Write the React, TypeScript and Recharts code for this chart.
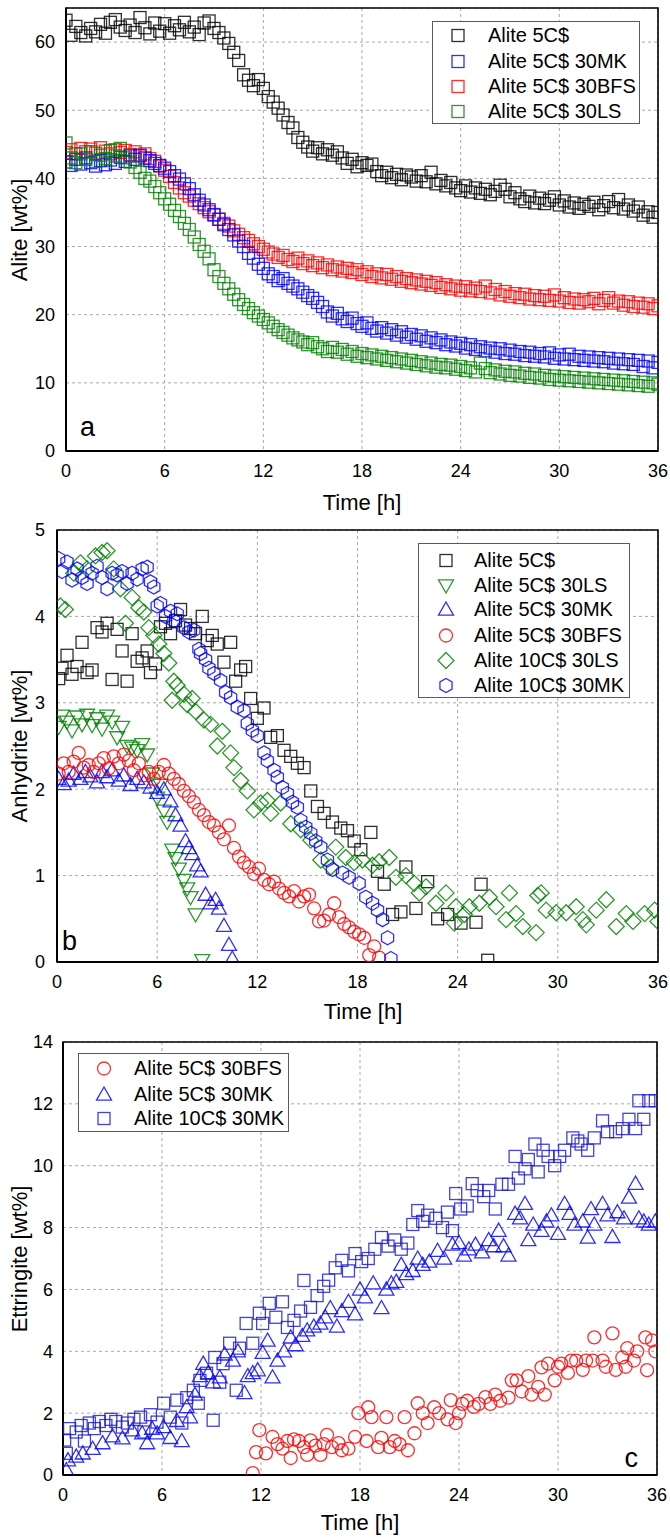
import React from 'react';
import { ScatterChart, Scatter, XAxis, YAxis, CartesianGrid, ReferenceArea, Legend } from 'recharts';

const FONT = '"Liberation Sans", Arial, Helvetica, sans-serif';
const RED = '#ff0000';
const BLUE = '#0000ff';
const GREEN = '#008000';
const BLACK = '#000000';

const TIME_TICKS = [0, 6, 12, 18, 24, 30, 36];
const A_TICKS = [0, 10, 20, 30, 40, 50, 60];
const B_TICKS = [0, 1, 2, 3, 4, 5];
const C_TICKS = [0, 2, 4, 6, 8, 10, 12, 14];

// ---------- Panel a : Alite [wt%] ----------
const A_TIME = [
  0, 0.3, 0.6, 0.9, 1.2, 1.5, 1.8, 2.1, 2.4, 2.7,
  3, 3.3, 3.6, 3.9, 4.2, 4.5, 4.8, 5.1, 5.4, 5.7,
  6, 6.3, 6.6, 6.9, 7.2, 7.5, 7.8, 8.1, 8.4, 8.7,
  9, 9.3, 9.6, 9.9, 10.2, 10.5, 10.8, 11.1, 11.4, 11.7,
  12, 12.3, 12.6, 12.9, 13.2, 13.5, 13.8, 14.1, 14.4, 14.7,
  15, 15.3, 15.6, 15.9, 16.2, 16.5, 16.8, 17.1, 17.4, 17.7,
  18, 18.3, 18.6, 18.9, 19.2, 19.5, 19.8, 20.1, 20.4, 20.7,
  21, 21.3, 21.6, 21.9, 22.2, 22.5, 22.8, 23.1, 23.4, 23.7,
  24, 24.3, 24.6, 24.9, 25.2, 25.5, 25.8, 26.1, 26.4, 26.7,
  27, 27.3, 27.6, 27.9, 28.2, 28.5, 28.8, 29.1, 29.4, 29.7,
  30, 30.3, 30.6, 30.9, 31.2, 31.5, 31.8, 32.1, 32.4, 32.7,
  33, 33.3, 33.6, 33.9, 34.2, 34.5, 34.8, 35.1, 35.4, 35.7,
  36,
];
const A_ALITE_5CS = [
  63.2, 61.0, 62.3, 61.4, 60.9, 62.0, 61.5, 62.6, 61.3, 62.9,
  63.3, 62.2, 61.7, 62.5, 61.4, 63.6, 62.1, 61.2, 62.8, 61.6,
  62.7, 61.3, 62.4, 61.8, 62.9, 61.5, 62.2, 61.1, 62.8, 63.1,
  62.0, 61.4, 60.6, 59.8, 58.5, 57.3, 55.2, 54.4, 53.6, 54.5,
  53.2, 52.0, 51.2, 50.3, 49.3, 48.2, 47.4, 46.0, 45.3, 44.6,
  44.0, 44.5, 43.6, 44.2, 43.4, 43.9, 43.0, 42.2, 42.8, 41.7,
  42.3, 41.9, 42.1, 41.0, 40.4, 40.9, 40.1, 40.6, 39.8, 40.5,
  40.2, 39.6, 40.4, 39.5, 40.9, 39.2, 39.7, 38.9, 39.4, 38.6,
  38.2, 38.9, 38.0, 38.6, 37.8, 38.4, 37.6, 38.1, 39.0, 38.4,
  37.3, 37.9, 37.0, 36.6, 37.4, 36.4, 37.1, 36.3, 36.8, 37.3,
  36.1, 36.7, 35.8, 36.4, 35.6, 36.2, 35.9, 36.5, 35.4, 36.0,
  36.6, 35.7, 36.9, 35.5, 36.1, 35.2, 35.8, 34.6, 35.1, 34.3,
  35.0,
];
const A_ALITE_5CS_30MK = [
  42.4, 41.9, 42.8, 42.1, 43.0, 42.3, 41.8, 42.6, 42.0, 42.7,
  42.2, 43.1, 42.5, 43.3, 42.8, 43.4, 43.0, 42.6, 42.2, 41.9,
  41.5, 41.0, 40.4, 39.9, 39.2, 38.5, 37.6, 36.8, 36.1, 35.4,
  34.7, 34.0, 33.2, 32.5, 31.7, 30.8, 30.0, 29.0, 28.3, 27.4,
  26.8, 26.0, 25.6, 25.0, 25.3, 24.6, 24.2, 23.8, 23.3, 22.8,
  22.4, 21.8, 21.2, 20.4, 19.8, 20.2, 19.4, 19.0, 19.5, 18.7,
  18.3, 18.8, 18.0, 17.6, 18.1, 17.3, 17.8, 17.0, 17.5, 16.7,
  17.1, 16.4, 16.9, 16.1, 16.6, 15.9, 16.3, 15.6, 16.0, 15.4,
  15.8, 15.1, 15.6, 14.9, 15.3, 14.7, 15.1, 14.5, 15.0, 14.3,
  14.8, 14.2, 14.6, 14.0, 14.5, 13.9, 14.3, 13.8, 14.4, 13.6,
  14.1, 13.5, 14.2, 13.4, 13.9, 13.3, 13.8, 13.2, 13.7, 13.1,
  13.6, 12.9, 13.5, 12.8, 13.4, 12.7, 13.3, 12.4, 13.2, 12.2,
  13.0,
];
const A_ALITE_5CS_30BFS = [
  43.8, 44.2, 43.6, 44.4, 43.9, 44.3, 43.7, 44.5, 44.0, 43.6,
  44.2, 43.8, 44.1, 43.5, 43.9, 43.3, 43.6, 42.9, 42.5, 41.8,
  41.2, 40.3, 39.4, 38.6, 37.9, 37.4, 36.8, 36.3, 35.7, 35.1,
  34.6, 34.0, 33.4, 33.0, 32.3, 31.8, 31.3, 30.9, 30.4, 30.0,
  29.6, 29.2, 28.9, 28.4, 28.7, 28.1, 27.8, 28.3, 27.5, 27.9,
  27.2, 27.6, 26.9, 27.3, 26.6, 27.0, 26.4, 26.8, 26.2, 26.6,
  25.9, 26.3, 25.6, 26.0, 25.4, 25.9, 25.2, 25.6, 24.9, 25.3,
  24.7, 25.1, 24.5, 24.9, 24.3, 24.7, 24.0, 24.4, 23.8, 24.2,
  23.6, 24.1, 23.5, 23.9, 23.4, 24.2, 23.2, 23.7, 22.9, 23.4,
  22.7, 23.1, 22.5, 23.0, 22.3, 22.8, 22.2, 22.7, 22.1, 22.9,
  22.0, 22.5, 21.8, 22.3, 21.7, 22.2, 21.9, 22.4, 21.6, 22.1,
  22.5, 21.7, 22.0, 21.4, 21.9, 21.2, 21.7, 21.1, 21.6, 20.9,
  21.3,
];
const A_ALITE_5CS_30LS = [
  45.2, 43.0, 42.3, 43.6, 42.8, 43.9, 42.5, 43.4, 42.9, 44.1,
  43.3, 44.4, 43.0, 42.4, 41.6, 40.9, 40.0, 39.6, 38.8, 37.9,
  37.0, 36.2, 35.3, 34.4, 33.4, 32.5, 31.4, 30.3, 29.3, 28.2,
  26.6, 25.6, 24.6, 23.8, 23.0, 22.2, 21.5, 20.9, 20.3, 19.8,
  19.3, 18.8, 18.3, 17.8, 17.4, 17.0, 16.6, 16.3, 16.0, 15.6,
  15.9, 15.3, 15.0, 14.6, 15.2, 14.5, 14.9, 14.2, 14.6, 13.9,
  14.3, 13.7, 14.1, 13.5, 13.9, 13.3, 13.7, 13.1, 13.5, 12.9,
  13.3, 12.7, 13.1, 12.5, 12.9, 12.3, 12.7, 12.2, 12.6, 12.0,
  12.4, 11.8, 12.2, 11.6, 12.9, 12.1, 11.5, 11.9, 11.3, 11.7,
  11.1, 11.6, 11.0, 11.4, 10.8, 11.3, 10.7, 11.1, 10.5, 11.0,
  10.4, 10.9, 10.3, 10.8, 10.2, 10.7, 10.1, 10.6, 10.0, 10.5,
  9.9, 10.4, 9.8, 10.3, 9.7, 10.2, 9.6, 10.1, 9.5, 10.0,
  9.8,
];

// ---------- Panel b : Anhydrite [wt%]  ([time h, value]) ----------
const B_ALITE_5CS = [
  [0.1, 3.28], [0.3, 3.4], [0.6, 3.55], [0.9, 3.33], [1.2, 3.42], [1.5, 3.7], [1.8, 3.35], [2.1, 3.38], [2.4, 3.87], [2.7, 3.82],
  [3.0, 3.92], [3.3, 3.27], [3.6, 3.85], [3.9, 3.6], [4.2, 3.25], [4.5, 3.8], [4.8, 3.48], [5.1, 3.52], [5.4, 3.6], [5.6, 3.35],
  [5.9, 3.45], [6.2, 3.88], [6.5, 3.92], [6.8, 3.8], [7.1, 3.95], [7.4, 4.08], [7.7, 3.9], [8.0, 3.86], [8.3, 3.8], [8.7, 4.0],
  [9.0, 3.72], [9.3, 3.78], [9.6, 3.68], [10.0, 3.47], [10.4, 3.7], [10.7, 3.25], [11.0, 3.38], [11.3, 3.42], [11.6, 3.05], [12.0, 2.82],
  [12.4, 2.94], [12.8, 2.6], [13.2, 2.62], [13.6, 2.45], [14.0, 2.38], [14.4, 2.3], [14.8, 2.25], [15.2, 1.98], [15.6, 1.8], [16.0, 1.72],
  [16.5, 1.62], [17.0, 1.55], [17.4, 1.52], [17.8, 1.4], [18.2, 1.3], [18.8, 1.5], [19.2, 1.05], [19.6, 0.9], [20.1, 0.55], [20.6, 0.58],
  [20.9, 1.1], [21.5, 0.62], [22.2, 0.93], [22.8, 0.5], [23.4, 0.55], [24.2, 0.45], [25.1, 0.46], [25.4, 0.9], [25.8, 0.02],
];
const B_ALITE_5CS_30LS = [
  [0.1, 2.72], [0.3, 2.85], [0.6, 2.78], [0.9, 2.68], [1.2, 2.84], [1.5, 2.75], [1.8, 2.86], [2.1, 2.74], [2.4, 2.82], [2.7, 2.7],
  [3.0, 2.85], [3.3, 2.78], [3.6, 2.6], [3.9, 2.72], [4.2, 2.5], [4.5, 2.48], [4.8, 2.45], [5.1, 2.52], [5.4, 2.4], [5.7, 2.18],
  [6.0, 1.9], [6.2, 2.05], [6.4, 1.75], [6.6, 1.62], [6.9, 1.3], [7.1, 1.2], [7.3, 1.08], [7.6, 0.95], [7.8, 0.85], [8.0, 0.75],
  [8.3, 0.55], [8.7, 0.02],
];
const B_ALITE_5CS_30MK = [
  [0.1, 2.12], [0.4, 2.06], [0.7, 2.1], [1.0, 2.18], [1.4, 2.12], [1.7, 2.2], [2.0, 2.15], [2.4, 2.08], [2.7, 2.2], [3.0, 2.14],
  [3.3, 2.22], [3.7, 2.1], [4.0, 2.16], [4.4, 2.05], [4.8, 2.12], [5.2, 2.08], [5.6, 2.02], [6.0, 1.96], [6.4, 2.0], [6.8, 1.86],
  [7.1, 1.7], [7.4, 1.58], [7.7, 1.4], [7.9, 1.32], [8.1, 1.25], [8.4, 1.12], [8.6, 1.05], [8.9, 0.78], [9.2, 0.68], [9.5, 0.72],
  [9.7, 0.62], [10.0, 0.42], [10.3, 0.2], [10.5, 0.04],
];
const B_ALITE_5CS_30BFS = [
  [0.1, 2.18], [0.4, 2.3], [0.7, 2.2], [1.0, 2.32], [1.3, 2.42], [1.6, 2.25], [1.9, 2.28], [2.2, 2.2], [2.5, 2.3], [2.8, 2.36],
  [3.1, 2.24], [3.4, 2.38], [3.7, 2.3], [4.0, 2.4], [4.3, 2.33], [4.6, 2.22], [4.9, 2.3], [5.2, 2.16], [5.5, 2.2], [5.8, 2.12],
  [6.1, 2.2], [6.4, 2.28], [6.7, 2.18], [7.0, 2.12], [7.3, 2.06], [7.6, 1.98], [7.9, 1.92], [8.2, 1.85], [8.5, 1.76], [8.8, 1.7],
  [9.1, 1.62], [9.4, 1.58], [9.7, 1.5], [10.0, 1.42], [10.3, 1.58], [10.6, 1.32], [10.9, 1.22], [11.2, 1.15], [11.5, 1.1], [11.8, 1.02],
  [12.1, 1.08], [12.4, 0.95], [12.7, 0.9], [13.0, 0.93], [13.3, 0.85], [13.6, 0.8], [13.9, 0.76], [14.2, 0.82], [14.5, 0.7], [14.8, 0.76],
  [15.1, 0.78], [15.4, 0.62], [15.7, 0.47], [16.0, 0.48], [16.3, 0.55], [16.6, 0.68], [16.9, 0.52], [17.2, 0.44], [17.5, 0.4], [17.8, 0.35],
  [18.1, 0.32], [18.4, 0.28], [18.7, 0.08], [19.0, 0.18], [19.3, 0.05],
];
const B_ALITE_10CS_30LS = [
  [0.2, 4.12], [0.5, 4.08], [1.0, 4.5], [1.4, 4.62], [1.8, 4.55], [2.3, 4.7], [2.7, 4.74], [3.0, 4.76], [3.4, 4.55], [3.8, 4.32],
  [4.1, 3.92], [4.5, 4.22], [4.9, 4.1], [5.2, 4.05], [5.5, 3.87], [5.8, 3.78], [6.1, 3.68], [6.4, 3.57], [6.7, 3.46], [6.9, 3.03],
  [7.0, 3.25], [7.2, 3.2], [7.6, 3.1], [7.8, 2.98], [8.1, 3.05], [8.3, 2.9], [8.8, 2.8], [9.2, 2.75], [9.6, 2.5], [9.9, 2.67],
  [10.4, 2.42], [10.6, 2.25], [11.0, 2.1], [11.4, 1.98], [11.8, 1.76], [12.2, 1.84], [12.6, 1.87], [12.8, 1.72], [13.4, 1.84], [14.0, 1.6],
  [14.6, 1.53], [15.2, 1.41], [15.8, 1.18], [16.4, 1.1], [16.7, 1.33], [17.3, 1.21], [17.8, 1.15], [18.3, 1.18], [18.9, 1.12], [19.3, 1.16],
  [19.9, 1.21], [20.3, 0.98], [20.9, 1.0], [21.4, 0.91], [21.7, 0.8], [22.1, 0.87], [22.7, 0.68], [23.3, 0.8], [23.8, 0.45], [23.9, 0.64],
  [24.4, 0.55], [24.7, 0.64], [25.3, 0.68], [25.9, 0.75], [26.3, 0.64], [26.9, 0.49], [27.1, 0.8], [27.5, 0.56], [27.9, 0.41], [28.7, 0.34],
  [28.8, 0.77], [29.0, 0.8], [29.3, 0.6], [29.9, 0.57], [30.5, 0.57], [31.1, 0.64], [31.5, 0.49], [31.7, 0.43], [32.3, 0.6], [32.9, 0.72],
  [33.5, 0.41], [34.1, 0.56], [34.5, 0.47], [35.2, 0.56], [35.8, 0.6], [36.0, 0.47],
];
const B_ALITE_10CS_30MK = [
  [0.1, 4.67], [0.3, 4.52], [0.6, 4.63], [0.9, 4.42], [1.2, 4.55], [1.5, 4.45], [1.8, 4.38], [2.1, 4.5], [2.4, 4.58], [2.7, 4.45],
  [3.0, 4.32], [3.3, 4.5], [3.6, 4.48], [3.9, 4.52], [4.2, 4.38], [4.5, 4.5], [4.8, 4.43], [5.1, 4.55], [5.4, 4.57], [5.6, 4.4],
  [5.8, 4.34], [6.0, 4.12], [6.2, 4.15], [6.5, 4.0], [6.8, 4.06], [7.0, 3.95], [7.2, 4.03], [7.6, 3.87], [7.9, 3.82], [8.2, 3.84],
  [8.5, 3.62], [8.6, 3.57], [8.9, 3.5], [9.1, 3.4], [9.4, 3.34], [9.8, 3.26], [10.1, 3.12], [10.4, 3.06], [10.8, 2.95], [11.2, 2.91],
  [11.4, 2.76], [11.7, 2.68], [12.0, 2.62], [12.4, 2.42], [12.6, 2.33], [13.0, 2.22], [13.2, 2.14], [13.5, 2.02], [13.8, 1.95], [14.1, 1.85],
  [14.4, 1.79], [14.6, 1.64], [14.9, 1.56], [15.2, 1.49], [15.5, 1.4], [15.8, 1.33], [16.2, 1.18], [16.5, 1.07], [17.1, 1.03], [17.5, 0.98],
  [18.1, 0.91], [18.5, 0.75], [18.9, 0.68], [19.2, 0.6], [19.5, 0.49], [19.8, 0.28], [20.0, 0.04],
];

// ---------- Panel c : Ettringite [wt%] ([time h, value]) ----------
const C_ALITE_5CS_30BFS = [
  [11.5, 0.06], [11.7, 0.74], [11.9, 1.45], [12.3, 0.7], [12.7, 1.23], [13.0, 1.0], [13.3, 0.85], [13.6, 1.1], [13.8, 0.55], [14.0, 1.15],
  [14.3, 1.1], [14.6, 0.9], [14.8, 0.65], [15.0, 1.12], [15.3, 0.95], [15.6, 0.65], [15.8, 1.0], [16.0, 1.3], [16.3, 0.9], [16.7, 1.03],
  [16.9, 0.8], [17.3, 0.85], [17.7, 1.23], [17.9, 2.0], [18.4, 1.1], [18.5, 2.19], [18.7, 1.87], [19.1, 0.9], [19.3, 1.2], [19.6, 1.87],
  [19.8, 0.9], [20.1, 1.1], [20.4, 1.0], [20.7, 1.87], [20.9, 0.8], [21.3, 1.35], [21.5, 2.32], [21.8, 2.0], [22.1, 1.68], [22.5, 2.19],
  [22.8, 2.0], [23.3, 1.8], [23.5, 2.42], [23.8, 1.68], [24.0, 2.0], [24.2, 2.3], [24.5, 2.4], [24.9, 2.2], [25.2, 2.3], [25.6, 2.52],
  [25.9, 2.3], [26.2, 2.6], [26.5, 2.4], [27.0, 2.5], [27.2, 3.06], [27.5, 3.06], [27.8, 2.7], [28.2, 3.2], [28.4, 2.6], [28.8, 2.85],
  [29.0, 3.48], [29.2, 2.6], [29.4, 3.6], [29.8, 3.06], [30.0, 3.5], [30.2, 3.6], [30.6, 3.3], [30.8, 3.7], [31.1, 3.7], [31.5, 3.4],
  [31.7, 3.7], [32.1, 3.7], [32.2, 4.45], [32.7, 3.7], [32.9, 3.5], [33.3, 4.58], [33.5, 3.4], [33.9, 3.8], [34.1, 3.5], [34.2, 4.1],
  [34.6, 3.7], [34.8, 4.0], [35.3, 4.45], [35.4, 3.39], [35.7, 4.35], [35.9, 4.0],
];
const C_ALITE_5CS_30MK = [
  [0.2, 0.16], [0.3, 0.48], [0.8, 0.6], [1.2, 0.7], [1.8, 0.85], [2.4, 1.03], [3.0, 1.25], [3.6, 1.19], [4.2, 1.45], [4.8, 1.35],
  [5.1, 1.03], [5.4, 1.5], [5.7, 1.35], [6.1, 1.55], [6.5, 1.2], [6.9, 1.75], [7.2, 1.1], [7.5, 2.2], [7.7, 1.87], [8.0, 2.6],
  [8.3, 3.2], [8.5, 3.6], [8.8, 3.3], [9.1, 3.0], [9.5, 3.16], [9.8, 3.9], [10.3, 3.7], [10.6, 4.0], [11.0, 2.65], [11.2, 3.2],
  [11.5, 3.3], [11.8, 3.39], [12.1, 3.95], [12.4, 4.35], [12.7, 3.16], [13.0, 3.7], [13.4, 4.0], [13.8, 4.45], [14.1, 4.2], [14.5, 4.5],
  [14.8, 4.68], [15.2, 4.8], [15.6, 4.9], [15.9, 5.1], [16.2, 5.4], [16.6, 4.8], [16.9, 5.3], [17.3, 5.6], [17.7, 5.2], [18.0, 6.0],
  [18.3, 5.75], [18.8, 6.2], [19.3, 5.4], [19.6, 6.0], [19.9, 6.2], [20.2, 6.25], [20.5, 6.8], [20.8, 6.5], [21.2, 6.6], [21.5, 7.0],
  [21.8, 6.8], [22.2, 6.9], [22.7, 7.25], [23.1, 7.0], [23.6, 7.45], [24.0, 7.5], [24.3, 7.1], [24.6, 7.3], [25.0, 7.45], [25.4, 7.2],
  [25.8, 7.6], [26.1, 7.4], [26.4, 7.9], [26.7, 7.4], [27.0, 7.1], [27.4, 8.45], [27.7, 8.3], [28.0, 8.77], [28.2, 7.6], [28.5, 8.1],
  [29.0, 7.9], [29.3, 8.2], [29.6, 8.4], [30.0, 7.8], [30.4, 8.77], [30.7, 8.45], [31.0, 8.1], [31.5, 8.2], [31.8, 7.68], [32.0, 8.6],
  [32.2, 8.1], [32.7, 8.77], [33.0, 8.4], [33.3, 7.7], [33.6, 8.5], [34.0, 8.3], [34.3, 8.97], [34.7, 9.42], [34.9, 8.3], [35.2, 8.2],
  [35.5, 8.1], [35.9, 8.2],
];
const C_ALITE_10CS_30MK = [
  [0.1, 1.13], [0.2, 0.7], [0.4, 1.5], [0.8, 1.39], [1.1, 1.6], [1.3, 1.1], [1.6, 1.68], [1.9, 1.5], [2.2, 1.73], [2.6, 1.6],
  [2.9, 1.8], [3.2, 1.73], [3.6, 1.55], [3.9, 1.68], [4.3, 1.8], [4.7, 1.87], [4.9, 1.39], [5.3, 1.95], [5.7, 1.71], [6.1, 2.32],
  [6.5, 1.87], [6.9, 2.42], [7.2, 1.68], [7.5, 2.5], [7.9, 2.74], [8.2, 2.32], [8.3, 3.06], [8.7, 3.29], [9.1, 1.77], [9.2, 3.8],
  [9.5, 3.0], [9.7, 3.6], [10.1, 4.26], [10.5, 2.74], [10.7, 4.1], [11.1, 4.9], [11.5, 4.26], [11.9, 5.23], [12.1, 4.9], [12.5, 5.55],
  [12.9, 5.1], [13.3, 5.6], [13.6, 4.77], [14.0, 5.0], [14.4, 5.3], [14.6, 6.29], [15.0, 5.42], [15.4, 5.8], [15.8, 6.1], [16.1, 6.3],
  [16.5, 6.7], [16.9, 6.94], [17.3, 6.6], [17.7, 7.16], [18.1, 6.9], [18.5, 7.0], [18.9, 7.3], [19.3, 7.68], [19.7, 7.4], [20.1, 7.6],
  [20.5, 7.3], [20.9, 7.5], [21.2, 8.1], [21.5, 8.55], [21.8, 8.2], [22.1, 8.4], [22.6, 8.3], [23.0, 8.0], [23.3, 8.5], [23.6, 7.9],
  [23.8, 9.1], [24.1, 8.6], [24.5, 8.7], [24.8, 9.42], [25.1, 9.2], [25.5, 9.0], [25.8, 9.2], [26.2, 8.6], [26.6, 9.4], [27.0, 9.4],
  [27.4, 10.3], [27.6, 9.6], [28.0, 9.9], [28.2, 10.2], [28.6, 10.7], [28.8, 9.8], [29.1, 10.5], [29.4, 10.3], [29.8, 10.0], [30.1, 10.3],
  [30.4, 10.5], [30.9, 10.9], [31.2, 10.8], [31.4, 10.7], [31.8, 10.5], [32.2, 10.9], [32.7, 11.45], [33.0, 11.1], [33.5, 11.1], [33.9, 11.2],
  [34.3, 11.5], [34.7, 11.2], [34.9, 12.1], [35.2, 11.5], [35.5, 12.1], [35.9, 12.1],
];

// ---------- helpers ----------
type Kind = 'square' | 'circle' | 'triUp' | 'triDown' | 'diamond' | 'hexagon';

const fromColumns = (times: number[], values: number[]) => times.map((t, i) => ({ t, v: values[i] }));
const fromPairs = (pairs: number[][]) => pairs.map(([t, v]) => ({ t, v }));

function Sym({ kind, cx, cy, color, size = 12 }: { kind: Kind; cx: number; cy: number; color: string; size?: number }) {
  const common = { fill: 'none', stroke: color, strokeWidth: 1.3, strokeOpacity: 0.82 } as const;
  const h = size / 2;
  switch (kind) {
    case 'square':
      return <rect x={cx - h} y={cy - h} width={size} height={size} {...common} />;
    case 'circle':
      return <circle cx={cx} cy={cy} r={h} {...common} />;
    case 'triUp':
      return <polygon points={`${cx},${cy - h} ${cx + h},${cy + h * 0.75} ${cx - h},${cy + h * 0.75}`} {...common} />;
    case 'triDown':
      return <polygon points={`${cx - h},${cy - h * 0.75} ${cx + h},${cy - h * 0.75} ${cx},${cy + h}`} {...common} />;
    case 'diamond':
      return <polygon points={`${cx},${cy - h} ${cx + h},${cy} ${cx},${cy + h} ${cx - h},${cy}`} {...common} />;
    case 'hexagon': {
      const pts = [-90, -30, 30, 90, 150, 210]
        .map((a) => `${cx + h * Math.cos((a * Math.PI) / 180)},${cy + h * Math.sin((a * Math.PI) / 180)}`)
        .join(' ');
      return <polygon points={pts} {...common} />;
    }
  }
  return null;
}

type SeriesDef = { name: string; kind: Kind; color: string; size: number; data: { t: number; v: number }[] };

type PanelDef = {
  top: number;
  height: number;
  margin: { top: number; right: number; bottom: number; left: number };
  yWidth: number;
  xHeight: number;
  yMax: number;
  yTicks: number[];
  yTickMargin: number;
  yTitle: string;
  yTitleY: number;
  xTitleX: number;
  xTitleY: number;
  letter: string;
  letterX: number;
  letterY: number;
  letterAnchor: 'start' | 'end';
  legendOrder: SeriesDef[];
  drawOrder: SeriesDef[];
  legend: { left: number; top: number; width: number; height: number; rows: number[]; markerX: number; textX: number };
};

function LegendBox({ p }: { p: PanelDef }) {
  const L = p.legend;
  return (
    <div
      style={{
        position: 'relative',
        width: L.width,
        height: L.height,
        border: '1px solid #5a5a5a',
        background: '#fff',
        boxSizing: 'border-box',
        fontFamily: FONT,
        fontSize: 20,
        color: '#000',
      }}
    >
      {p.legendOrder.map((s, i) => (
        <div key={s.name} style={{ position: 'absolute', left: 0, top: L.rows[i] - 12.5, height: 25, width: '100%' }}>
          <svg width={24} height={25} style={{ position: 'absolute', left: L.markerX - 12, top: 0 }}>
            <Sym kind={s.kind} cx={12} cy={12.5} color={s.color} size={s.size} />
          </svg>
          <span style={{ position: 'absolute', left: L.textX, top: 0, lineHeight: '25px', whiteSpace: 'nowrap' }}>{s.name}</span>
        </div>
      ))}
    </div>
  );
}

function Panel({ p }: { p: PanelDef }) {
  const tickStyle = { fontSize: 18, fill: '#000', fontFamily: FONT };
  return (
    <div style={{ position: 'absolute', left: 0, top: p.top }}>
      <ScatterChart width={670} height={p.height} margin={p.margin}>
        <CartesianGrid stroke="#a8a8a8" strokeDasharray="3 3" />
        <XAxis
          type="number"
          dataKey="t"
          domain={[0, 36]}
          ticks={TIME_TICKS}
          interval={0}
          allowDataOverflow
          height={p.xHeight}
          tickLine={false}
          tickSize={0}
          tickMargin={13}
          axisLine={{ stroke: '#000', strokeWidth: 2 }}
          tick={tickStyle}
          label={{
            content: () => (
              <g>
                <text x={p.xTitleX} y={p.xTitleY} textAnchor="middle" fontSize={22} fontFamily={FONT} fill="#000">
                  Time [h]
                </text>
                <text x={p.letterX} y={p.letterY} textAnchor={p.letterAnchor} fontSize={27} fontFamily={FONT} fill="#000">
                  {p.letter}
                </text>
              </g>
            ),
          }}
        />
        <YAxis
          type="number"
          dataKey="v"
          domain={[0, p.yMax]}
          ticks={p.yTicks}
          interval={0}
          allowDataOverflow
          width={p.yWidth}
          tickLine={false}
          tickSize={0}
          tickMargin={p.yTickMargin}
          axisLine={{ stroke: '#000', strokeWidth: 2 }}
          tick={tickStyle}
          label={{
            content: () => (
              <text
                x={27}
                y={p.yTitleY}
                transform={`rotate(-90, 27, ${p.yTitleY})`}
                textAnchor="middle"
                fontSize={22}
                fontFamily={FONT}
                fill="#000"
              >
                {p.yTitle}
              </text>
            ),
          }}
        />
        <ReferenceArea x1={0} x2={36} y1={0} y2={p.yMax} fill="none" fillOpacity={0} stroke="#000" strokeWidth={1.6} />
        {p.drawOrder.map((s) => (
          <Scatter
            key={s.name}
            name={s.name}
            data={s.data}
            isAnimationActive={false}
            shape={(props: any) =>
              props.cx == null || props.cy == null ? <g /> : <Sym kind={s.kind} cx={props.cx} cy={props.cy} color={s.color} size={s.size} />
            }
          />
        ))}
        <Legend
          layout="vertical"
          align="center"
          verticalAlign="middle"
          wrapperStyle={{ left: p.legend.left, top: p.legend.top, width: p.legend.width, height: p.legend.height, margin: 0, padding: 0 }}
          content={() => <LegendBox p={p} />}
        />
      </ScatterChart>
    </div>
  );
}

// series definitions
const aBlack: SeriesDef = { name: 'Alite 5C$', kind: 'square', color: BLACK, size: 12, data: fromColumns(A_TIME, A_ALITE_5CS) };
const aBlue: SeriesDef = { name: 'Alite 5C$ 30MK', kind: 'square', color: BLUE, size: 12, data: fromColumns(A_TIME, A_ALITE_5CS_30MK) };
const aRed: SeriesDef = { name: 'Alite 5C$ 30BFS', kind: 'square', color: RED, size: 12, data: fromColumns(A_TIME, A_ALITE_5CS_30BFS) };
const aGreen: SeriesDef = { name: 'Alite 5C$ 30LS', kind: 'square', color: GREEN, size: 12, data: fromColumns(A_TIME, A_ALITE_5CS_30LS) };

const bBlack: SeriesDef = { name: 'Alite 5C$', kind: 'square', color: BLACK, size: 12, data: fromPairs(B_ALITE_5CS) };
const bLS5: SeriesDef = { name: 'Alite 5C$ 30LS', kind: 'triDown', color: GREEN, size: 15, data: fromPairs(B_ALITE_5CS_30LS) };
const bMK5: SeriesDef = { name: 'Alite 5C$ 30MK', kind: 'triUp', color: BLUE, size: 15, data: fromPairs(B_ALITE_5CS_30MK) };
const bBFS5: SeriesDef = { name: 'Alite 5C$ 30BFS', kind: 'circle', color: RED, size: 13, data: fromPairs(B_ALITE_5CS_30BFS) };
const bLS10: SeriesDef = { name: 'Alite 10C$ 30LS', kind: 'diamond', color: GREEN, size: 16, data: fromPairs(B_ALITE_10CS_30LS) };
const bMK10: SeriesDef = { name: 'Alite 10C$ 30MK', kind: 'hexagon', color: BLUE, size: 14, data: fromPairs(B_ALITE_10CS_30MK) };

const cBFS5: SeriesDef = { name: 'Alite 5C$ 30BFS', kind: 'circle', color: RED, size: 13, data: fromPairs(C_ALITE_5CS_30BFS) };
const cMK5: SeriesDef = { name: 'Alite 5C$ 30MK', kind: 'triUp', color: BLUE, size: 15, data: fromPairs(C_ALITE_5CS_30MK) };
const cMK10: SeriesDef = { name: 'Alite 10C$ 30MK', kind: 'square', color: '#1a1ad0', size: 12, data: fromPairs(C_ALITE_10CS_30MK) };

const PANELS: PanelDef[] = [
  {
    top: 0,
    height: 520,
    margin: { top: 8, right: 12, bottom: 0, left: 0 },
    yWidth: 66,
    xHeight: 69,
    yMax: 65,
    yTicks: A_TICKS,
    yTickMargin: 11,
    yTitle: 'Alite [wt%]',
    yTitleY: 230,
    xTitleX: 362,
    xTitleY: 510,
    letter: 'a',
    letterX: 80,
    letterY: 436,
    letterAnchor: 'start',
    legendOrder: [aBlack, aBlue, aRed, aGreen],
    drawOrder: [aBlack, aRed, aBlue, aGreen],
    legend: { left: 432, top: 21, width: 208, height: 103, rows: [13, 39, 64, 89], markerX: 25, textX: 55 },
  },
  {
    top: 520,
    height: 512,
    margin: { top: 10, right: 12, bottom: 0, left: 0 },
    yWidth: 57,
    xHeight: 70,
    yMax: 5,
    yTicks: B_TICKS,
    yTickMargin: 12,
    yTitle: 'Anhydrite [wt%]',
    yTitleY: 226,
    xTitleX: 363,
    xTitleY: 499,
    letter: 'b',
    letterX: 62,
    letterY: 430,
    letterAnchor: 'start',
    legendOrder: [bBlack, bLS5, bMK5, bBFS5, bLS10, bMK10],
    drawOrder: [bBlack, bLS5, bMK5, bBFS5, bLS10, bMK10],
    legend: { left: 418, top: 23, width: 212, height: 155, rows: [16, 41, 65, 91, 116, 141], markerX: 27, textX: 55 },
  },
  {
    top: 1020,
    height: 517,
    margin: { top: 22, right: 13, bottom: 0, left: 0 },
    yWidth: 63,
    xHeight: 62,
    yMax: 14,
    yTicks: C_TICKS,
    yTickMargin: 10,
    yTitle: 'Ettringite [wt%]',
    yTitleY: 239,
    xTitleX: 360,
    xTitleY: 510,
    letter: 'c',
    letterX: 638,
    letterY: 447,
    letterAnchor: 'end',
    legendOrder: [cBFS5, cMK5, cMK10],
    drawOrder: [cBFS5, cMK5, cMK10],
    legend: { left: 78, top: 33, width: 211, height: 79, rows: [14, 40, 64], markerX: 25, textX: 55 },
  },
];

export default function App() {
  return (
    <div style={{ position: 'absolute', left: 0, top: 0, width: 670, height: 1537, background: '#fff', fontFamily: FONT }}>
      {PANELS.map((p) => (
        <Panel key={p.letter} p={p} />
      ))}
    </div>
  );
}
